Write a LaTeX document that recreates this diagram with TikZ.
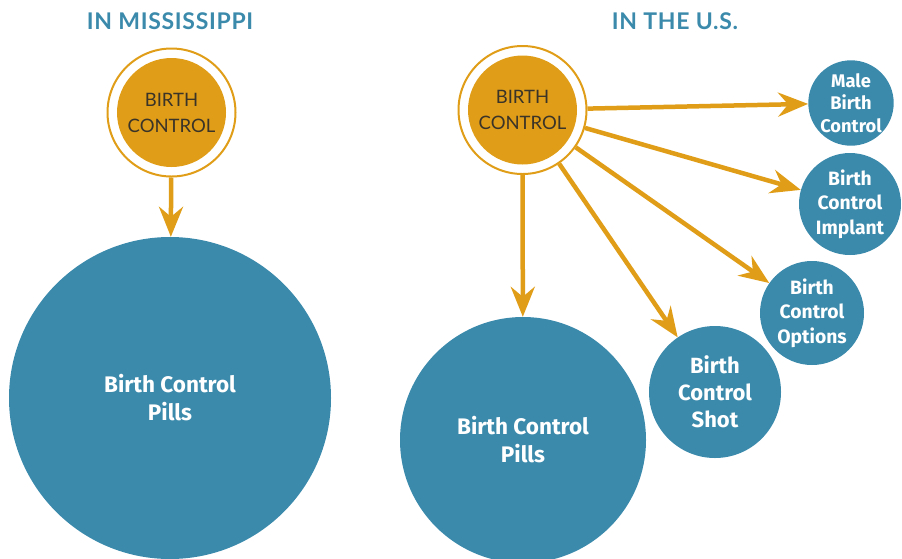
\documentclass[tikz,border=0pt]{standalone}
\usepackage{fontspec}
\usetikzlibrary{arrows.meta}
\newfontfamily\latofont{Lato}
\newfontfamily\latotitle{Lato}[LetterSpace=3]
\newfontfamily\firafont{Fira Sans}
\definecolor{bcorange}{HTML}{E09E18}
\definecolor{bcblue}{HTML}{3B8AAC}
\definecolor{bcdark}{HTML}{3A3328}
\tikzset{
  titletext/.style={font=\latotitle\bfseries\fontsize{23}{24}\selectfont, text=bcblue, inner sep=0pt},
  ringbox/.style={circle, draw=bcorange, line width=2pt, minimum size=128pt, inner sep=0pt},
  corebox/.style={circle, fill=bcorange, minimum size=109pt, inner sep=0pt, align=center,
     text=bcdark, font=\latofont\fontsize{18.5}{26}\selectfont},
  bigbubble/.style={circle, fill=bcblue, inner sep=0pt, align=center, text=white,
     font=\firafont\bfseries\fontsize{22.5}{28}\selectfont},
  shotbubble/.style={circle, fill=bcblue, inner sep=0pt, align=center, text=white,
     font=\firafont\bfseries\fontsize{22}{27}\selectfont},
  smallbubble/.style={circle, fill=bcblue, inner sep=0pt, align=center, text=white,
     font=\firafont\bfseries\fontsize{19.3}{24.5}\selectfont},
  tinybubble/.style={circle, fill=bcblue, inner sep=0pt, align=center, text=white,
     font=\firafont\bfseries\fontsize{18.3}{22.5}\selectfont},
  arr/.style={draw=bcorange, line width=4.5pt,
     -{Stealth[length=30pt, width=24pt, inset=10pt]}}
}
\begin{document}
\begin{tikzpicture}[x=1pt,y=-1pt]
\useasboundingbox (0,0) rectangle (902,558);
\clip (0,0) rectangle (902,558);
% titles
\node[titletext] (t1) at (170,21) {IN MISSISSIPPI};
\node[titletext] (t2) at (675,21) {IN THE U.S.};
% left
\node[bigbubble, minimum size=322pt] (pills1) at (170,398) {Birth Control\\Pills};
\node[ringbox] (ring1) at (171.5,112.5) {};
\node[corebox] (bc1) at (171.5,112.5) {BIRTH\\CONTROL};
\draw[arr] (ring1) -- (pills1);
% right
\node[bigbubble, minimum size=246pt] (pills2) at (523,440) {Birth Control\\Pills};
\node[shotbubble, minimum size=132pt] (shot) at (715,392) {Birth\\Control\\Shot};
\node[smallbubble, minimum size=104pt] (options) at (812,313) {Birth\\Control\\Options};
\node[smallbubble, minimum size=102pt] (implant) at (850,204) {Birth\\Control\\Implant};
\node[tinybubble, minimum size=84pt] (male) at (851,103) {Male\\Birth\\Control};
\node[ringbox] (ring2) at (522.5,110) {};
\node[corebox] (bc2) at (522.5,110) {BIRTH\\CONTROL};
\draw[arr] (ring2) -- (male);
\draw[arr] (ring2) -- (implant);
\draw[arr] (ring2) -- (options);
\draw[arr] (ring2) -- (shot);
\draw[arr] (ring2) -- (pills2);
\end{tikzpicture}
\end{document}
